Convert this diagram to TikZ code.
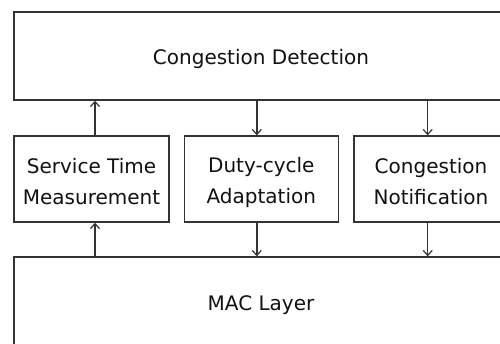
\documentclass[tikz,border=0pt]{standalone}
\usepackage{fontspec}
\setmainfont{DejaVu Sans}
\usetikzlibrary{arrows.meta}
\definecolor{linegray}{HTML}{333333}
\definecolor{textblack}{HTML}{111111}
\begin{document}
\begin{tikzpicture}[x=1pt,y=-1pt,
  box/.style={draw=linegray, line width=1.4pt, rectangle, inner sep=0pt},
  lbl/.style={inner sep=0pt, align=center, font=\fontsize{20}{31}\selectfont, text=textblack},
  arr/.style={draw=linegray, line width=1.4pt,
    -{Straight Barb[length=5pt,width=9pt,line width=1.2pt]}}]
\useasboundingbox (0,0) rectangle (500,343);
\fill[white] (0,0) rectangle (500,343);
\clip (0,0) rectangle (500,343);
\node[box, minimum width=494pt, minimum height=88pt] (cd) at (261,56) {};
\draw[linegray, line width=1pt] ([shift={(1.5,-1.3)}]cd.south west) -- ([shift={(1.5,-1.3)}]cd.south east);
\node[box, minimum width=155pt, minimum height=86pt] (stm) at (91.5,179) {};
\node[box, minimum width=154pt, minimum height=86pt] (dca) at (261.3,179) {};
\node[box, minimum width=154pt, minimum height=86pt] (cn) at (431,179) {};
\node[box, minimum width=494pt, minimum height=90pt] (mac) at (261,302) {};
\node[lbl] (cdt) at ([yshift=-3pt]cd.center) {Congestion Detection};
\node[lbl] (stmt) at ([yshift=-3pt]stm.center) {Service Time\\Measurement};
\node[lbl] (dcat) at ([yshift=-3pt]dca.center) {Duty-cycle\\Adaptation};
\node[lbl] (cnt) at ([yshift=-3pt]cn.center) {Congestion\\Notification};
\node[lbl] (mact) at ([yshift=-3pt]mac.center) {MAC Layer};
\draw[arr] ([xshift=3.5pt]stm.north) -- ([xshift=3.5pt]stm.north |- cd.south);
\draw[arr] ([xshift=3.5pt]mac.north -| stm.south) -- ([xshift=3.5pt]stm.south);
\draw[arr] ([xshift=-4.5pt]cd.south -| dca.north) -- ([xshift=-4.5pt]dca.north);
\draw[arr] ([xshift=-4.5pt]dca.south) -- ([xshift=-4.5pt]dca.south |- mac.north);
\draw[arr] ([xshift=-3.3pt]cd.south -| cn.north) -- ([xshift=-3.3pt]cn.north);
\draw[arr] ([xshift=-3.3pt]cn.south) -- ([xshift=-3.3pt]cn.south |- mac.north);
\end{tikzpicture}
\end{document}
